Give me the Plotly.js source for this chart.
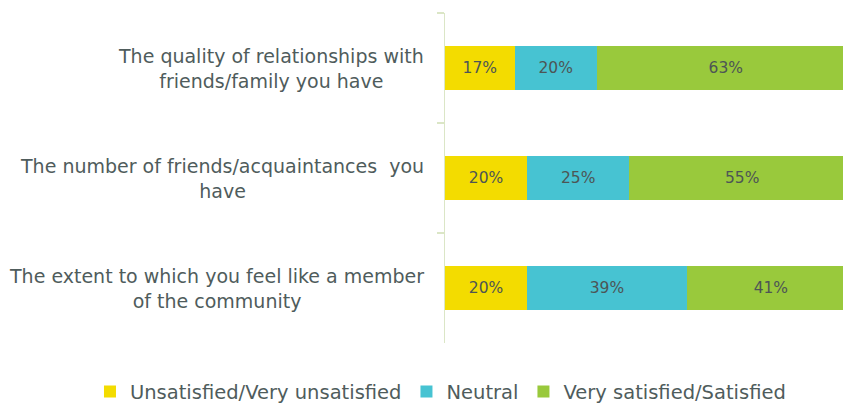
<!DOCTYPE html>
<html>
<head>
<meta charset="utf-8">
<script src="https://cdn.plot.ly/plotly-3.0.1.min.js"></script>
<style>html,body{margin:0;padding:0;background:#fff;}#chart{width:843px;height:412px;}</style>
</head>
<body>
<div id="chart"></div>
<script>
// Categories (top to bottom) and their display labels
const categories = ["quality", "number", "extent"];
const categoryLabels = [
  "The quality of relationships with<br>friends/family you have",
  "The number of friends/acquaintances  you<br>have",
  "The extent to which you feel like a member<br>of the community"
];
// Series values (%)
const seriesNames = ["Unsatisfied/Very unsatisfied", "Neutral", "Very satisfied/Satisfied"];
const unsatisfied = [17, 20, 20];
const neutral = [20, 25, 39];
const satisfied = [63, 55, 41];

const colors = ["#f3dc00", "#47c3d2", "#99c93c"];
const textColor = "#4f5c5c";
const font = "DejaVu Sans, Verdana, sans-serif";

const seriesValues = [unsatisfied, neutral, satisfied];
const traces = seriesValues.map((vals, i) => ({
  type: "bar",
  orientation: "h",
  name: seriesNames[i],
  y: categories,
  x: vals,
  width: 0.4,
  marker: {color: colors[i], line: {width: 0}},
  texttemplate: "%{x}%",
  textposition: "inside",
  insidetextanchor: "middle",
  textangle: 0,
  constraintext: "none",
  textfont: {family: font, size: 15.5, color: "#4d5555"},
  hoverinfo: "skip"
}));

const annotations = categories.map((c, i) => ({
  xref: "paper", yref: "y",
  x: -0.048, y: c,
  xanchor: "right", yanchor: "middle",
  align: "center",
  showarrow: false,
  text: categoryLabels[i],
  font: {family: font, size: 19, color: textColor}
}));

const layout = {
  width: 843, height: 412,
  margin: {l: 445, r: 0, t: 13, b: 69, pad: 0},
  barmode: "stack",
  paper_bgcolor: "#ffffff",
  plot_bgcolor: "#ffffff",
  showlegend: true,
  legend: {
    orientation: "h",
    xref: "paper", yref: "paper",
    x: -0.892, xanchor: "left",
    y: -0.089, yanchor: "top",
    font: {family: font, size: 19.5, color: textColor},
    itemclick: false, itemdoubleclick: false,
    traceorder: "normal"
  },
  xaxis: {
    range: [0, 97.1],
    visible: false,
    fixedrange: true
  },
  yaxis: {
    type: "category",
    autorange: "reversed",
    showline: true,
    linecolor: "#dbe6c6",
    linewidth: 1.5,
    ticks: "outside",
    tickson: "boundaries",
    ticklen: 7,
    tickcolor: "#dbe6c6",
    tickwidth: 1.5,
    showticklabels: false,
    showgrid: false,
    zeroline: false,
    fixedrange: true
  },
  annotations: annotations,
  hovermode: false
};

Plotly.newPlot("chart", traces, layout, {staticPlot: true, displayModeBar: false});
</script>
</body>
</html>
